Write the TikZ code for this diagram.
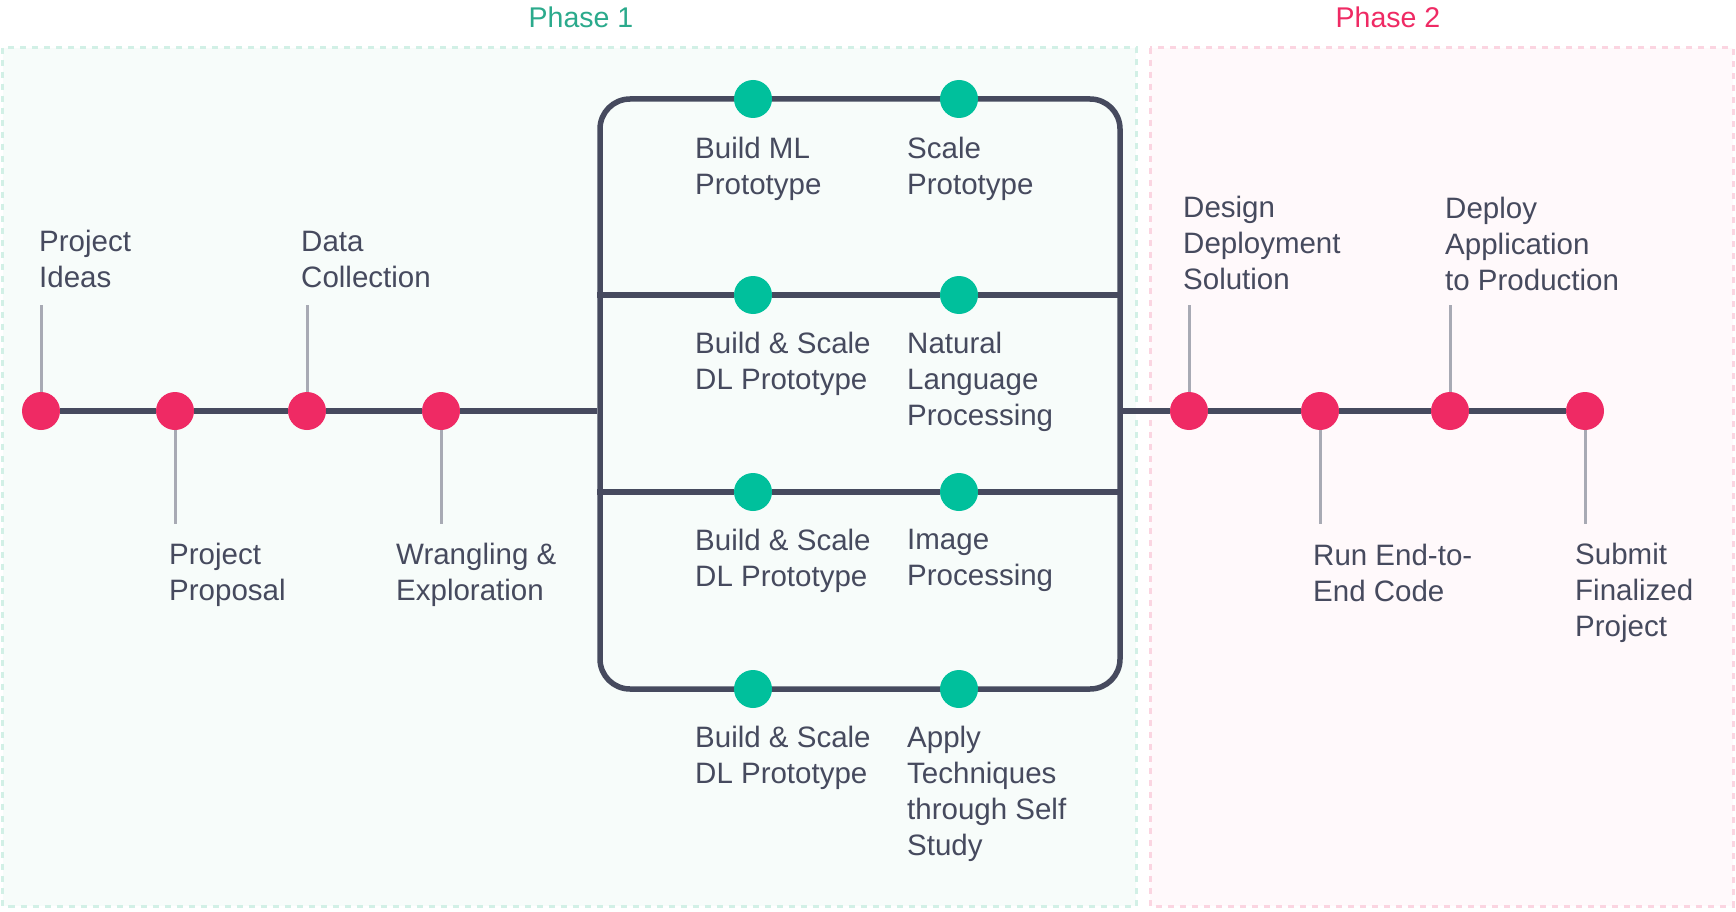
\documentclass[tikz,border=0pt]{standalone}
\usepackage{fontspec}
\setmainfont{Liberation Sans}
\usepackage{tikz}
\usetikzlibrary{positioning}
\usepackage{xcolor}
\definecolor{ink}{HTML}{464A5E}
\definecolor{stone}{HTML}{A8AAB4}
\definecolor{rose}{HTML}{EF2A64}
\definecolor{jade}{HTML}{00C09C}
\definecolor{phaseteal}{HTML}{2BAA8C}
\definecolor{mintbg}{HTML}{F7FCFA}
\definecolor{mintline}{HTML}{D2F0E6}
\definecolor{pinkbg}{HTML}{FFF9FB}
\definecolor{pinkline}{HTML}{FBD5E1}

\begin{document}
\begin{tikzpicture}[
        x=1pt, y=-1pt,
        every node/.style={font=\fontsize{29.5}{36}\selectfont, text=ink, inner sep=0pt},
        phasebox/.style={line width=3pt, dash pattern=on 6pt off 6pt},
        phasetitle/.style={font=\fontsize{28.5}{34}\selectfont, anchor=base},
        hub/.style={draw=ink, line width=5.5pt, rounded corners=30pt,
            minimum width=520pt, minimum height=590pt},
        rail/.style={draw=ink, line width=5.5pt},
        stem/.style={draw=stone, line width=3pt},
        redpt/.style={circle, fill=rose, minimum size=38pt},
        greenpt/.style={circle, fill=jade, minimum size=38pt},
        upper/.style={align=left, anchor=south west},
        lower/.style={align=left, anchor=north west},
    ]
    \useasboundingbox (0,0) rectangle (1736,912);
    \fill[white] (0,0) rectangle (1736,912);
    \draw[phasebox, draw=mintline, fill=mintbg] (2.5,48) rectangle (1136,906);
    \draw[phasebox, draw=pinkline, fill=pinkbg] (1150,48) rectangle (1733,906);
    \node[phasetitle, text=phaseteal] (phase1) at (581,28) {Phase 1};
    \node[phasetitle, text=rose] (phase2) at (1388,28) {Phase 2};

    \node[hub] (hub) at (860,394) {};

    \node[redpt] (r1) at (41,411) {};
    \node[redpt] (r2) at (175,411) {};
    \node[redpt] (r3) at (307,411) {};
    \node[redpt] (r4) at (441,411) {};
    \node[redpt] (s1) at (1189,411) {};
    \node[redpt] (s2) at (1320,411) {};
    \node[redpt] (s3) at (1450,411) {};
    \node[redpt] (s4) at (1585,411) {};

    \node[greenpt] (g11) at (753,99) {};
    \node[greenpt] (g12) at (959,99) {};
    \node[greenpt] (g21) at (753,295) {};
    \node[greenpt] (g22) at (959,295) {};
    \node[greenpt] (g31) at (753,492) {};
    \node[greenpt] (g32) at (959,492) {};
    \node[greenpt] (g41) at (753,689) {};
    \node[greenpt] (g42) at (959,689) {};

    \coordinate (r1tip) at (41,305);
    \coordinate (r2tip) at (175,524);
    \coordinate (r3tip) at (307,305);
    \coordinate (r4tip) at (441,524);
    \coordinate (s1tip) at (1189,305);
    \coordinate (s2tip) at (1320,524);
    \coordinate (s3tip) at (1450,305);
    \coordinate (s4tip) at (1585,524);

    \draw[rail] (r1) -- (r2) -- (r3) -- (r4) -- (hub.west |- r4);
    \draw[rail] (hub.east |- s1) -- (s1) -- (s2) -- (s3) -- (s4);
    \draw[rail] (hub.west |- g21) -- (g21) -- (g22) -- (hub.east |- g22);
    \draw[rail] (hub.west |- g31) -- (g31) -- (g32) -- (hub.east |- g32);

    \draw[stem] (r1) -- (r1tip);
    \draw[stem] (r2) -- (r2tip);
    \draw[stem] (r3) -- (r3tip);
    \draw[stem] (r4) -- (r4tip);
    \draw[stem] (s1) -- (s1tip);
    \draw[stem] (s2) -- (s2tip);
    \draw[stem] (s3) -- (s3tip);
    \draw[stem] (s4) -- (s4tip);

    \node[upper] (ideas) at (39,288) {Project\\Ideas};
    \node[lower] (proposal) at (169,543) {Project\\Proposal};
    \node[upper] (collection) at (301,288) {Data\\Collection};
    \node[lower] (wrangling) at (396,543) {Wrangling \&\\Exploration};

    \node[lower] (mlproto) at (695,137) {Build ML\\Prototype};
    \node[lower] (scaleproto) at (907,137) {Scale\\Prototype};
    \node[lower] (dlproto1) at (695,332) {Build \& Scale\\DL Prototype};
    \node[lower] (nlp) at (907,332) {Natural\\Language\\Processing};
    \node[lower] (dlproto2) at (695,529) {Build \& Scale\\DL Prototype};
    \node[lower] (imgproc) at (907,529) {Image\\Processing};
    \node[lower] (dlproto3) at (695,726) {Build \& Scale\\DL Prototype};
    \node[lower] (selfstudy) at (907,726) {Apply\\Techniques\\through Self\\Study};

    \node[upper] (design) at (1183,290) {Design\\Deployment\\Solution};
    \node[lower] (endtoend) at (1313,544) {Run End-to-\\End Code};
    \node[upper] (deploy) at (1445,291) {Deploy\\Application\\to Production};
    \node[lower] (submit) at (1575,543) {Submit\\Finalized\\Project};
\end{tikzpicture}
\end{document}
